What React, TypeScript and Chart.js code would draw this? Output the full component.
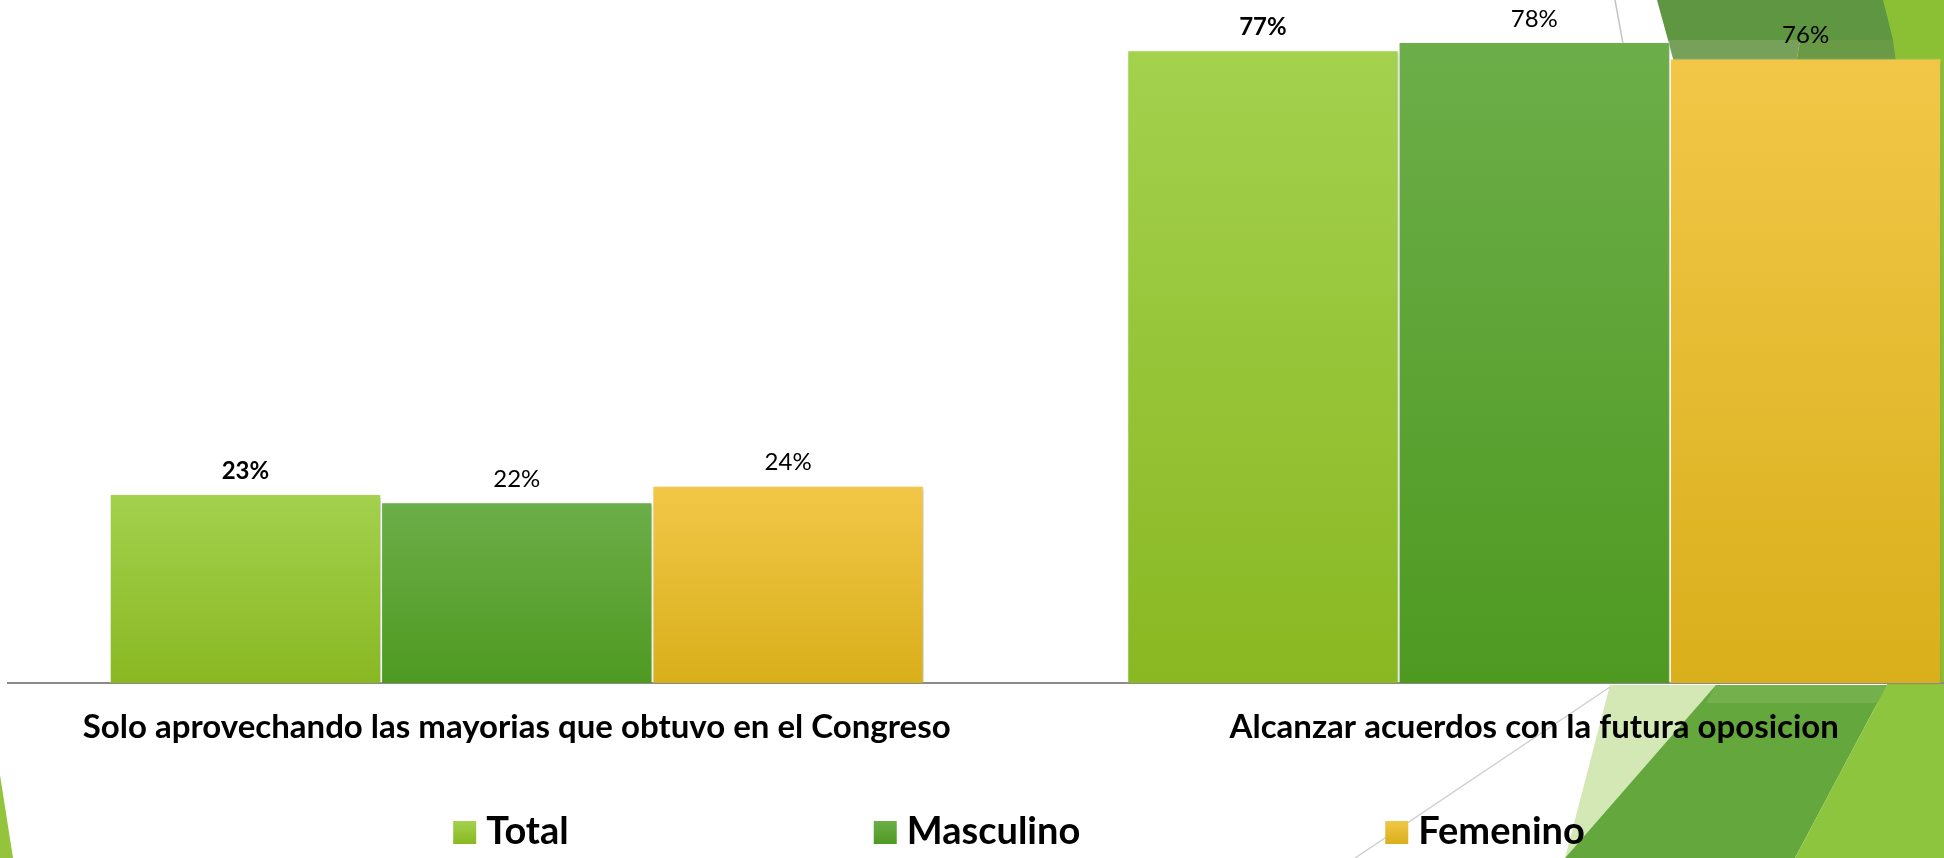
import React, { useEffect, useRef } from "react";
import { Chart, registerables } from "chart.js";

Chart.register(...registerables);

// ---------- data ----------
const categories = [
  "Solo aprovechando las mayorias que obtuvo en el Congreso",
  "Alcanzar acuerdos con la futura oposicion",
];
const seriesNames = ["Total", "Masculino", "Femenino"];
const totalValues = [23, 77];
const masculinoValues = [22, 78];
const femeninoValues = [24, 76];
const yMin = 0;
const yMax = 83;

// ---------- styles ----------
const FONT = "Lato";
const gradients: [string, string][] = [
  ["#A4D14E", "#89B822"],
  ["#6CAE49", "#4E9A21"],
  ["#F2C748", "#D9AF1B"],
];
const CANVAS_W = 2060;
const CANVAS_H = 858;

function barGradient(ctx: any, idx: number) {
  const chart = ctx.chart;
  const area = chart.chartArea;
  const [c0, c1] = gradients[idx];
  if (!area || ctx.type !== "data") return c0;
  const y = chart.scales.y;
  const top = y.getPixelForValue(ctx.raw);
  const bottom = y.getPixelForValue(0);
  const g = chart.ctx.createLinearGradient(0, top, 0, bottom);
  g.addColorStop(0, c0);
  g.addColorStop(1, c1);
  return g;
}

const backgroundPlugin = {
  id: "slideBackground",
  beforeDraw(chart: any) {
    const ctx = chart.ctx;
    const poly = (pts: number[][], color: string) => {
      ctx.beginPath();
      ctx.moveTo(pts[0][0], pts[0][1]);
      for (let i = 1; i < pts.length; i++) ctx.lineTo(pts[i][0], pts[i][1]);
      ctx.closePath();
      ctx.fillStyle = color;
      ctx.fill();
    };
    const line = (a: number[], b: number[], color: string) => {
      ctx.beginPath();
      ctx.moveTo(a[0], a[1]);
      ctx.lineTo(b[0], b[1]);
      ctx.strokeStyle = color;
      ctx.lineWidth = 1.5;
      ctx.stroke();
    };
    ctx.save();
    // bottom-left sliver
    poly([[0, 775], [13, 858], [0, 858]], "#93c43c");
    // right-edge lime strip (mostly hidden behind bars)
    poly([[1883, 0], [1944, 0], [1944, 686], [1887, 686]], "#8bbf34");
    // bottom-right decoration
    poly([[1610, 685], [1716, 685], [1565, 858]], "#d3e8b4");
    poly([[1716, 685], [1887, 685], [1795, 858], [1565, 858]], "#63a73d");
    poly([[1716, 685], [1887, 685], [1881, 703], [1706, 703]], "#74b14c");
    poly([[1887, 685], [1944, 685], [1944, 858], [1795, 858]], "#8ec53f");
    line([1610, 687], [1355, 858], "#cfcfcf");
    // top-right decoration
    line([1615, 0], [1626, 60], "#c4c4c4");
    poly([[1657, 0], [1883, 0], [1893, 40], [1668, 40]], "#5f9641");
    poly([[1668, 40], [1800, 40], [1795, 70], [1676, 70]], "#77a15a");
    poly([[1800, 40], [1893, 40], [1897, 70], [1795, 70]], "#6a9a45");
    ctx.restore();
  },
};

const barShadowPlugin = {
  id: "barShadow",
  beforeDatasetsDraw(chart: any) {
    const ctx = chart.ctx;
    ctx.save();
    ctx.shadowColor = "rgba(0,0,0,0.22)";
    ctx.shadowBlur = 4;
    ctx.shadowOffsetX = 2;
    ctx.shadowOffsetY = 2;
  },
  afterDatasetsDraw(chart: any) {
    chart.ctx.restore();
  },
};

const valueLabelPlugin = {
  id: "valueLabels",
  afterDatasetsDraw(chart: any) {
    const ctx = chart.ctx;
    ctx.save();
    ctx.shadowColor = "transparent";
    ctx.textAlign = "center";
    ctx.textBaseline = "alphabetic";
    ctx.fillStyle = "#000000";
    chart.data.datasets.forEach((ds: any, di: number) => {
      const meta = chart.getDatasetMeta(di);
      ctx.font = `${di === 0 ? "bold " : ""}24px ${FONT}`;
      meta.data.forEach((bar: any, i: number) => {
        ctx.fillText(`${ds.data[i]}%`, bar.x, bar.y - 15.5);
      });
    });
    ctx.restore();
  },
};

const legendPlugin = {
  id: "slideLegend",
  afterDraw(chart: any) {
    const ctx = chart.ctx;
    const area = chart.chartArea;
    const BOX = 23;
    const BOX_GAP = 10;
    const ITEM_GAP = 305;
    const boxTop = 821;
    const baseline = 844;
    ctx.save();
    ctx.font = `bold 38px ${FONT}`;
    const items = chart.data.datasets.map((ds: any, i: number) => ({
      label: ds.label,
      i,
      w: BOX + BOX_GAP + ctx.measureText(ds.label).width,
    }));
    const total =
      items.reduce((s: number, it: any) => s + it.w, 0) + ITEM_GAP * (items.length - 1);
    let x = (area.left + area.right) / 2 - 6.5 - total / 2;
    ctx.textAlign = "left";
    ctx.textBaseline = "alphabetic";
    items.forEach((it: any) => {
      const [c0, c1] = gradients[it.i];
      const g = ctx.createLinearGradient(0, boxTop, 0, boxTop + BOX);
      g.addColorStop(0, c0);
      g.addColorStop(1, c1);
      ctx.fillStyle = g;
      ctx.fillRect(x, boxTop, BOX, BOX);
      ctx.fillStyle = "#000000";
      ctx.fillText(it.label, x + BOX + BOX_GAP, baseline);
      x += it.w + ITEM_GAP;
    });
    ctx.restore();
  },
};

export default function App() {
  const canvasRef = useRef<HTMLCanvasElement | null>(null);

  useEffect(() => {
    const canvas = canvasRef.current;
    if (!canvas) return;
    const seriesValues = [totalValues, masculinoValues, femeninoValues];
    const chart = new Chart(canvas, {
      type: "bar",
      data: {
        labels: categories,
        datasets: seriesNames.map((name, idx) => ({
          label: name,
          data: seriesValues[idx],
          backgroundColor: (ctx: any) => barGradient(ctx, idx),
          borderColor: "rgba(255,255,255,0.3)",
          borderWidth: 1,
          borderSkipped: "bottom" as const,
          categoryPercentage: 0.8,
          barPercentage: 1.0,
        })),
      },
      options: {
        responsive: false,
        animation: false,
        devicePixelRatio: 1,
        layout: { padding: { left: 8, right: 17, top: 1, bottom: 0 } },
        plugins: {
          legend: { display: false },
          tooltip: { enabled: false },
          title: { display: false },
        },
        scales: {
          x: {
            grid: { display: false, drawTicks: false },
            border: { display: true, color: "#8a8a8a", width: 2 },
            ticks: {
              color: "#000000",
              padding: 25,
              maxRotation: 0,
              autoSkip: false,
              font: { family: FONT, size: 33, weight: "bold" },
            },
            afterFit: (scale: any) => {
              scale.height = 175;
            },
          },
          y: {
            display: false,
            min: yMin,
            max: yMax,
            grid: { display: false },
          },
        },
      },
      plugins: [backgroundPlugin, barShadowPlugin, valueLabelPlugin, legendPlugin],
    });
    return () => chart.destroy();
  }, []);

  return (
    <div
      style={{
        position: "fixed",
        left: 0,
        top: 0,
        width: 1944,
        height: 858,
        overflow: "hidden",
        background: "#ffffff",
      }}
    >
      <canvas
        ref={canvasRef}
        width={CANVAS_W}
        height={CANVAS_H}
        style={{ display: "block", width: CANVAS_W, height: CANVAS_H }}
      />
    </div>
  );
}
